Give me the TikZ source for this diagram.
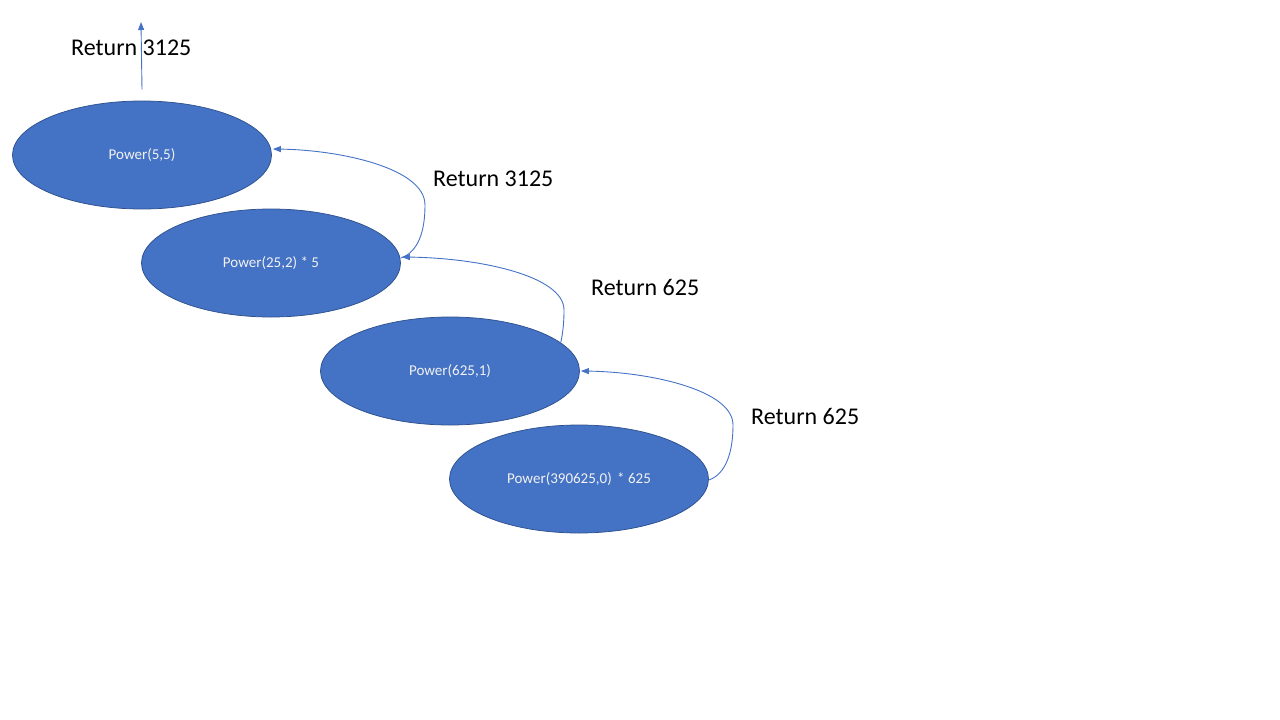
\documentclass[tikz,border=0pt]{standalone}
\usepackage{fontspec}
\setmainfont{Carlito}
\usetikzlibrary{shapes.geometric,arrows.meta}
\definecolor{fillblue}{HTML}{4472C4}
\definecolor{edgeblue}{HTML}{2F528F}
\definecolor{nodetext}{HTML}{F2F2F2}
\tikzset{
  call/.style={ellipse, draw=edgeblue, line width=0.75pt, fill=fillblue,
    minimum width=259pt, minimum height=108pt, inner sep=0pt,
    text=nodetext, font=\fontsize{15}{18}\selectfont},
  retlabel/.style={anchor=west, inner sep=0pt, font=\fontsize{24}{29}\selectfont, text=black},
  retarrow/.style={draw=fillblue, line width=0.9pt, -{Triangle[length=8pt,width=6pt]}}
}
\begin{document}
\begin{tikzpicture}[x=1pt,y=-1pt]
\useasboundingbox (0,0) rectangle (1280,720);
\node[call] (e1) at (142,155) {Power(5,5)};
\node[call] (e2) at (271,263) {Power(25,2) * 5};
\node[call] (e3) at (450,371) {Power(625,1)};
\node[call] (e4) at (579,479) {Power(390625,0)\hspace{2pt} * 625};

\node[retlabel] (l0) at (71,48) {Return 3125};
\node[retlabel] (l1) at (433,179) {Return 3125};
\node[retlabel] (l2) at (591,287) {Return 625};
\node[retlabel] (l3) at (751,416) {Return 625};

\coordinate (top) at (141,22);
\draw[retarrow] ([yshift=11pt]e1.north) -- (top);

\draw[retarrow] ([yshift=5pt]e2.east) .. controls (418,252) and (425,232) .. (425,205)
  .. controls (425,168) and (340,150) .. ([xshift=1pt,yshift=6pt]e1.east);
\draw[retarrow] ([xshift=-19pt,yshift=29pt]e3.east) .. controls (563,332) and (564,322) .. (564,310)
  .. controls (564,276) and (480,258) .. ([xshift=1pt,yshift=6pt]e2.east);
\draw[retarrow] ([yshift=-1pt]e4.east) .. controls (726,474) and (733,452) .. (733,425)
  .. controls (733,390) and (650,372) .. ([xshift=1pt]e3.east);
\end{tikzpicture}
\end{document}
